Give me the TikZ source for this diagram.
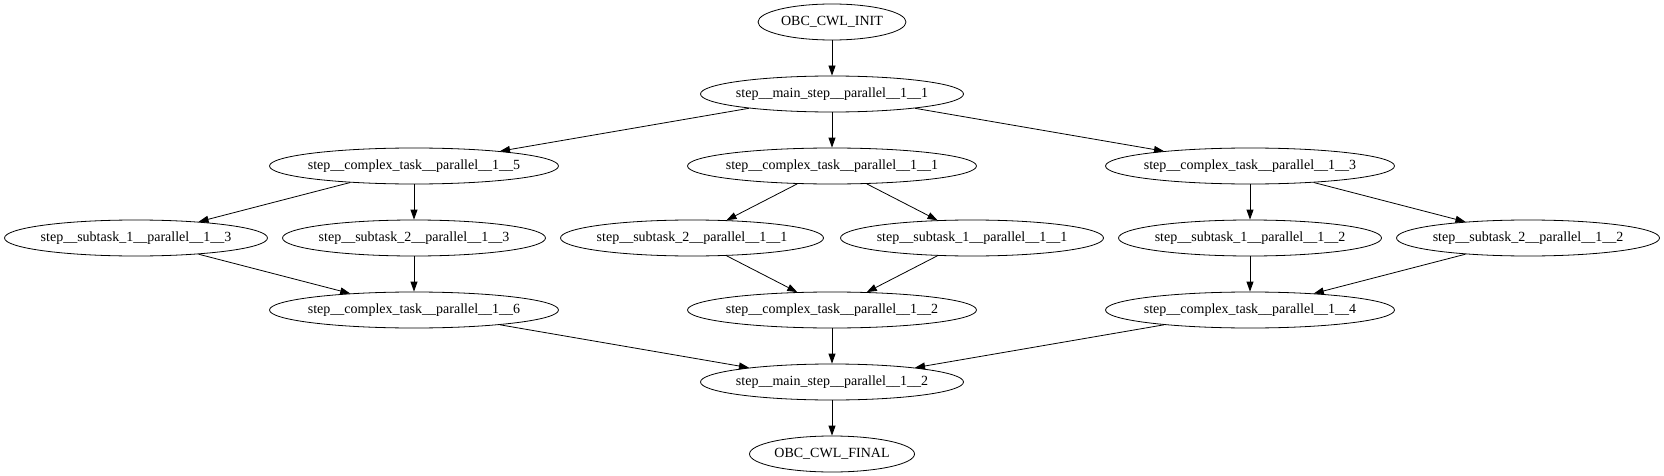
\documentclass[tikz,border=0pt]{standalone}
\usepackage{fontspec}
\setmainfont{Liberation Serif}
\usetikzlibrary{arrows.meta, shapes.geometric}
\newcommand{\etq}[1]{\makebox[0pt]{#1}}
\tikzset{
  every picture/.style={font=\fontsize{14pt}{16pt}\selectfont, >={Triangle[length=10pt, width=7pt]}},
  nodo/.style={draw, ellipse, line width=0.8pt, inner sep=0pt, minimum height=36pt, minimum width=#1},
  nodo/.default=263pt,
  flecha/.style={->, line width=0.8pt},
}
\begin{document}
\begin{tikzpicture}[x=1pt, y=1pt]
  \useasboundingbox (0,0) rectangle (1664,-476);
  \node[nodo=148pt] (I) at (832,-22) {\etq{OBC\_CWL\_INIT}};
  \node[nodo] (M1) at (832,-94) {\etq{step\_\_main\_step\_\_parallel\_\_1\_\_1}};
  \node[nodo=289pt] (C5) at (414,-166) {\etq{step\_\_complex\_task\_\_parallel\_\_1\_\_5}};
  \node[nodo=289pt] (C1) at (832,-166) {\etq{step\_\_complex\_task\_\_parallel\_\_1\_\_1}};
  \node[nodo=289pt] (C3) at (1250,-166) {\etq{step\_\_complex\_task\_\_parallel\_\_1\_\_3}};
  \node[nodo] (S13) at (136,-238) {\etq{step\_\_subtask\_1\_\_parallel\_\_1\_\_3}};
  \node[nodo] (S23) at (414,-238) {\etq{step\_\_subtask\_2\_\_parallel\_\_1\_\_3}};
  \node[nodo] (S21) at (692,-238) {\etq{step\_\_subtask\_2\_\_parallel\_\_1\_\_1}};
  \node[nodo] (S11) at (972,-238) {\etq{step\_\_subtask\_1\_\_parallel\_\_1\_\_1}};
  \node[nodo] (S12) at (1250,-238) {\etq{step\_\_subtask\_1\_\_parallel\_\_1\_\_2}};
  \node[nodo] (S22) at (1528,-238) {\etq{step\_\_subtask\_2\_\_parallel\_\_1\_\_2}};
  \node[nodo=289pt] (C6) at (414,-310) {\etq{step\_\_complex\_task\_\_parallel\_\_1\_\_6}};
  \node[nodo=289pt] (C2) at (832,-310) {\etq{step\_\_complex\_task\_\_parallel\_\_1\_\_2}};
  \node[nodo=289pt] (C4) at (1250,-310) {\etq{step\_\_complex\_task\_\_parallel\_\_1\_\_4}};
  \node[nodo] (M2) at (832,-382) {\etq{step\_\_main\_step\_\_parallel\_\_1\_\_2}};
  \node[nodo=165pt] (F) at (832,-454) {\etq{OBC\_CWL\_FINAL}};
  \draw[flecha] (I) -- (M1);
  \draw[flecha] (M1) -- (C5); \draw[flecha] (M1) -- (C1); \draw[flecha] (M1) -- (C3);
  \draw[flecha] (C5) -- (S13); \draw[flecha] (C5) -- (S23);
  \draw[flecha] (C1) -- (S21); \draw[flecha] (C1) -- (S11);
  \draw[flecha] (C3) -- (S12); \draw[flecha] (C3) -- (S22);
  \draw[flecha] (S13) -- (C6); \draw[flecha] (S23) -- (C6);
  \draw[flecha] (S21) -- (C2); \draw[flecha] (S11) -- (C2);
  \draw[flecha] (S12) -- (C4); \draw[flecha] (S22) -- (C4);
  \draw[flecha] (C6) -- (M2); \draw[flecha] (C2) -- (M2); \draw[flecha] (C4) -- (M2);
  \draw[flecha] (M2) -- (F);
\end{tikzpicture}
\end{document}
